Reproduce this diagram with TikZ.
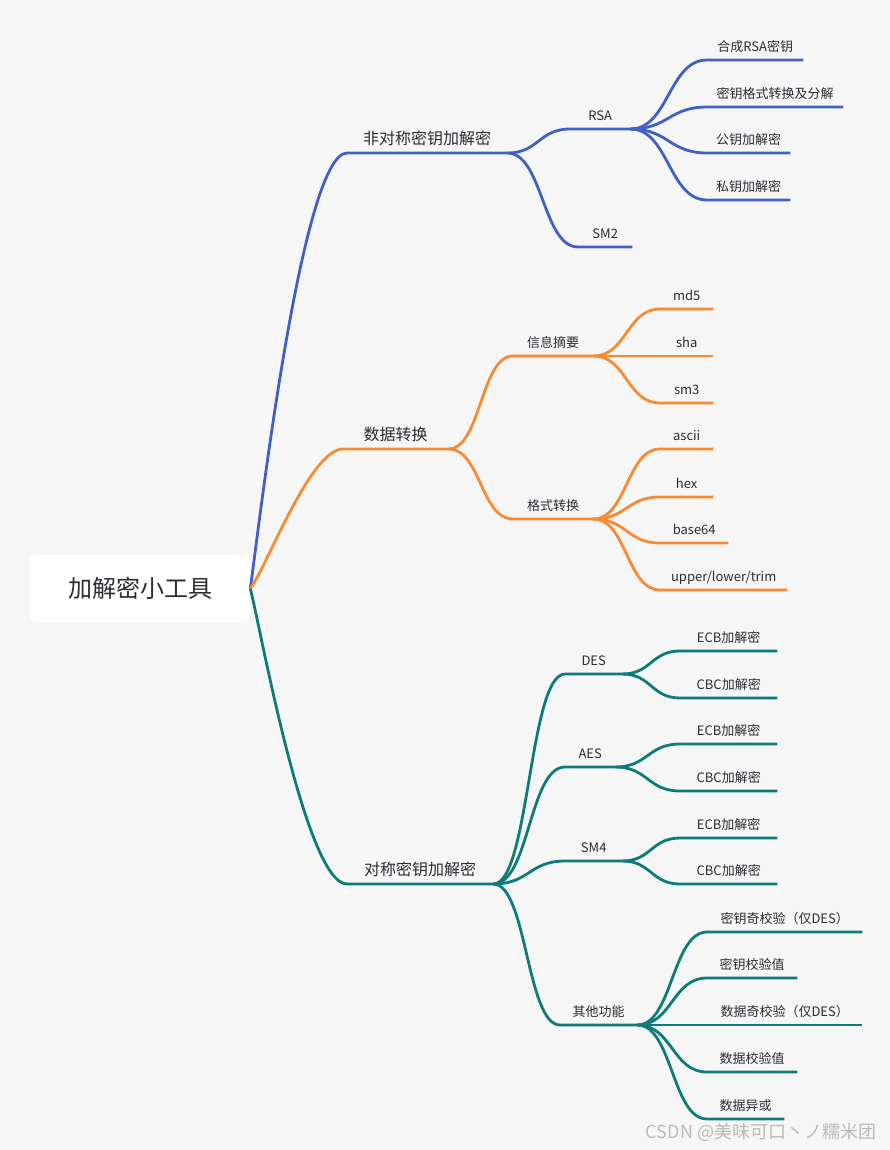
\documentclass[tikz,border=0pt]{standalone}
\usepackage{fontspec}
\setmainfont{Noto Sans CJK SC}
\usetikzlibrary{calc}

\definecolor{bgc}{HTML}{F6F6F6}
\definecolor{inkc}{HTML}{2B2B33}
\definecolor{asymc}{HTML}{4060C6}
\definecolor{convc}{HTML}{F88A33}
\definecolor{symc}{HTML}{0E7B7B}

\begin{document}
\begin{tikzpicture}[
    x=1pt, y=-1pt,
    every node/.style={text=inkc},
    rootbox/.style={fill=white, rounded corners=6pt, inner sep=0pt,
      minimum width=220, minimum height=67, font=\fontsize{24}{28}\selectfont},
    topic/.style={anchor=south west, inner xsep=0pt, inner ysep=8pt, text depth=0pt,
      font=\fontsize{13}{16}\selectfont},
    major/.style={topic, font=\fontsize{16}{20}\selectfont},
    sbend/.style={to path={let \p1=(\tikztostart), \p2=(\tikztotarget) in
      .. controls (\x1/2+\x2/2,\y1) and (\x1/2+\x2/2,\y2) .. (\tikztotarget) \tikztonodes}},
    asymlink/.style={draw=asymc, line width=2.8pt},
    convlink/.style={draw=convc, line width=2.8pt},
    symlink/.style={draw=symc, line width=2.8pt},
]
\fill[bgc] (0,0) rectangle (890,1150);

\node[rootbox] (root) at (140,588.5) {加解密小工具};

% asymmetric branch
\node[major, minimum width=160] (asym) at (347,153) {非对称密钥加解密};
\node[topic, minimum width=60] (rsa) at (570,129) {RSA};
\node[topic, minimum width=54] (sm2) at (578,247) {SM2};
\node[topic, minimum width=96] (rsa1) at (707,60) {合成RSA密钥};
\node[topic, minimum width=136] (rsa2) at (707,107) {密钥格式转换及分解};
\node[topic, minimum width=83] (rsa3) at (707,153) {公钥加解密};
\node[topic, minimum width=83] (rsa4) at (707,200) {私钥加解密};

% conversion branch
\node[major, minimum width=105] (conv) at (343,449) {数据转换};
\node[topic, minimum width=80] (digest) at (513,356) {信息摘要};
\node[topic, minimum width=80] (fmt) at (513,519) {格式转换};
\node[topic, minimum width=53] (md5) at (660,309) {md5};
\node[topic, minimum width=53] (sha) at (660,356) {sha};
\node[topic, minimum width=53] (sm3) at (660,403) {sm3};
\node[topic, minimum width=53] (ascii) at (660,449) {ascii};
\node[topic, minimum width=53] (hex) at (660,497) {hex};
\node[topic, minimum width=68] (b64) at (660,543) {base64};
\node[topic, minimum width=127] (case) at (660,590) {upper/lower/trim};

% symmetric branch
\node[major, minimum width=146] (sym) at (347,884) {对称密钥加解密};
\node[topic, minimum width=57] (des) at (565,674) {DES};
\node[topic, minimum width=50] (aes) at (565,767) {AES};
\node[topic, minimum width=57] (sm4) at (565,861) {SM4};
\node[topic, minimum width=77] (other) at (560,1025) {其他功能};
\node[topic, minimum width=97] (desE) at (680,651) {ECB加解密};
\node[topic, minimum width=97] (desC) at (680,698) {CBC加解密};
\node[topic, minimum width=97] (aesE) at (680,744) {ECB加解密};
\node[topic, minimum width=97] (aesC) at (680,791) {CBC加解密};
\node[topic, minimum width=97] (sm4E) at (680,838) {ECB加解密};
\node[topic, minimum width=97] (sm4C) at (680,884) {CBC加解密};
\node[topic, minimum width=155] (oth1) at (707,932) {密钥奇校验（仅DES）};
\node[topic, minimum width=90] (oth2) at (707,978) {密钥校验值};
\node[topic, minimum width=155] (oth3) at (707,1025) {数据奇校验（仅DES）};
\node[topic, minimum width=90] (oth4) at (707,1072) {数据校验值};
\node[topic, minimum width=77] (oth5) at (707,1119) {数据异或};

\node[font=\fontsize{18}{20}\selectfont, text=gray!55] (mark) at (761,1132) {CSDN @美味可口丶ノ糯米团};

% connectors
\draw[asymlink] (root.east) .. controls +(5,-28) and +(-47,0) .. (asym.south west) -- (asym.south east);
\draw[convlink] (root.east) .. controls +(15,-18) and +(-33,0) .. (conv.south west) -- (conv.south east);
\draw[symlink] (root.east) .. controls +(8,27) and +(-42,0) .. (sym.south west) -- (sym.south east);

\foreach \a/\b in {asym/rsa, asym/sm2, rsa/rsa1, rsa/rsa2, rsa/rsa3, rsa/rsa4}
  \draw[asymlink] (\a.south east) to[sbend] (\b.south west) -- (\b.south east);
\foreach \a/\b in {conv/digest, conv/fmt, digest/md5, digest/sha, digest/sm3,
    fmt/ascii, fmt/hex, fmt/b64, fmt/case}
  \draw[convlink] (\a.south east) to[sbend] (\b.south west) -- (\b.south east);
\foreach \a/\b in {sym/des, sym/aes, sym/sm4, sym/other, des/desE, des/desC,
    aes/aesE, aes/aesC, sm4/sm4E, sm4/sm4C, other/oth1, other/oth2, other/oth3,
    other/oth4, other/oth5}
  \draw[symlink] (\a.south east) to[sbend] (\b.south west) -- (\b.south east);
\end{tikzpicture}
\end{document}
